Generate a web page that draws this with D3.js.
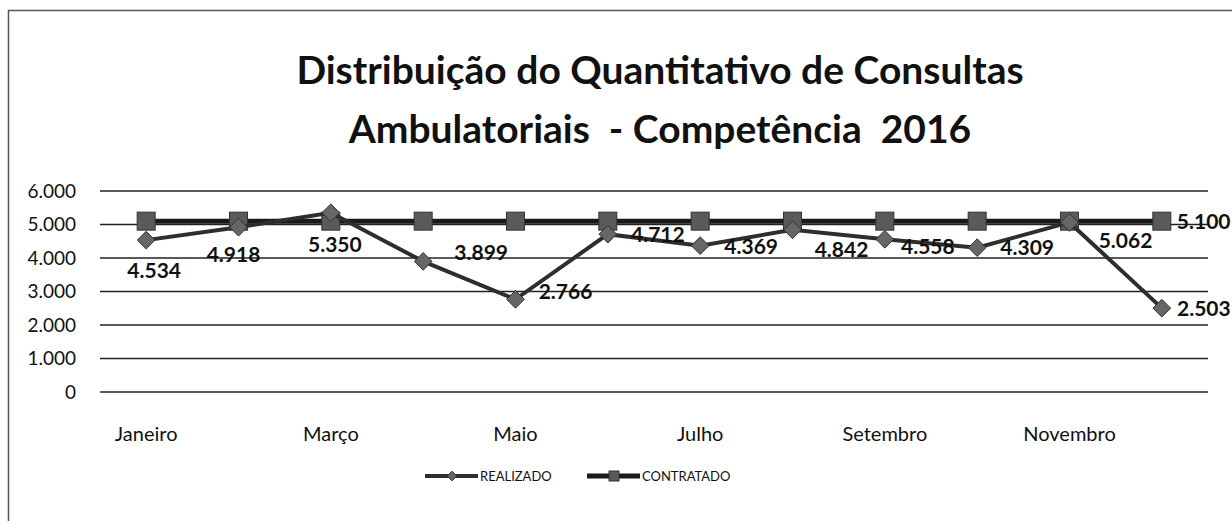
<!DOCTYPE html>
<html>
<head>
<meta charset="utf-8">
<script src="https://cdn.jsdelivr.net/npm/d3@7"></script>
<style>
  body { margin: 0; background: #fff; }
  svg { display: block; font-family: Lato, "Open Sans", sans-serif; }
</style>
</head>
<body>
<svg id="chart" width="1232" height="521"></svg>
<script>
const months = ["Janeiro", "Fevereiro", "Março", "Abril", "Maio", "Junho",
    "Julho", "Agosto", "Setembro", "Outubro", "Novembro", "Dezembro"];
const realizado = [4534, 4918, 5350, 3899, 2766, 4712, 4369, 4842, 4558, 4309, 5062, 2503];
const contratado = [5100, 5100, 5100, 5100, 5100, 5100, 5100, 5100, 5100, 5100, 5100, 5100];
const yTicks = [0, 1000, 2000, 3000, 4000, 5000, 6000];
const seriesNames = ["REALIZADO", "CONTRATADO"];
const titleLines = ["Distribuição do Quantitativo de Consultas", "Ambulatoriais  - Competência  2016"];

// label placement (dx, dy from the point), as Excel left them
const labelOffsets = [[8, 30], [-5, 27], [4, 32], [58, -9], [50, -8], [50, 0],
    [51, 1], [49, 20], [43, 7], [50, 0], [56, 18], [42, 0]];

const svg = d3.select("#chart");
const fmt = d => d3.format(",")(d).replace(/,/g, ".");

// outer chart border
svg.append("rect")
    .attr("x", 8.5).attr("y", 10.5)
    .attr("width", 1260).attr("height", 560)
    .attr("fill", "none").attr("stroke", "#555").attr("stroke-width", 1.5);

// title
svg.append("g").selectAll("text")
    .data(titleLines)
    .enter().append("text")
    .attr("x", 660)
    .attr("y", (d, i) => 84 + i * 59)
    .attr("text-anchor", "middle")
    .attr("font-weight", "bold")
    .attr("font-size", 39)
    .attr("fill", "#111")
    .style("white-space", "pre")
    .text(d => d);

const x = d3.scaleBand().domain(months).range([100, 1208]);
const y = d3.scaleLinear().domain([0, 6000]).range([392, 191]);
const cx = m => x(m) + x.bandwidth() / 2;

// gridlines
svg.append("g").selectAll("line")
    .data(yTicks)
    .enter().append("line")
    .attr("x1", 100).attr("x2", 1208)
    .attr("y1", d => y(d)).attr("y2", d => y(d))
    .attr("stroke", "#222").attr("stroke-width", 1.5);

// y axis labels
const yAxis = svg.append("g")
    .attr("transform", "translate(80,0)")
    .call(d3.axisLeft(y).tickValues(yTicks).tickFormat(fmt).tickSize(0).tickPadding(4));
yAxis.select(".domain").remove();
yAxis.selectAll("text").attr("font-size", 19).attr("fill", "#111")
    .attr("font-family", "Lato, sans-serif");

// x axis labels, every other month
const xAxis = svg.append("g")
    .attr("transform", "translate(0,424)")
    .call(d3.axisBottom(x).tickValues(months.filter((m, i) => i % 2 === 0)).tickSize(0));
xAxis.select(".domain").remove();
xAxis.selectAll("text").attr("font-size", 20).attr("fill", "#111")
    .attr("font-family", "Lato, sans-serif");

const line = d3.line().x((d, i) => cx(months[i])).y(d => y(d));

// CONTRATADO
svg.append("path")
    .datum(contratado)
    .attr("fill", "none").attr("stroke", "#1a1a1a").attr("stroke-width", 5)
    .attr("d", line);
svg.append("g").selectAll("rect")
    .data(contratado)
    .enter().append("rect")
    .attr("x", (d, i) => cx(months[i]) - 9)
    .attr("y", d => y(d) - 9)
    .attr("width", 18).attr("height", 18)
    .attr("fill", "#5a5a5a").attr("stroke", "#333").attr("stroke-width", 1);

// REALIZADO
svg.append("path")
    .datum(realizado)
    .attr("fill", "none").attr("stroke", "#2e2e2e").attr("stroke-width", 4)
    .attr("d", line);
const diamond = d3.symbol().type(d3.symbolDiamond2).size(200);
svg.append("g").selectAll("path")
    .data(realizado)
    .enter().append("path")
    .attr("transform", (d, i) => `translate(${cx(months[i])},${y(d)})`)
    .attr("d", diamond)
    .attr("fill", "#666").attr("stroke", "#333").attr("stroke-width", 1);

// data labels
svg.append("g").selectAll("text")
    .data(realizado)
    .enter().append("text")
    .attr("x", (d, i) => cx(months[i]) + labelOffsets[i][0])
    .attr("y", (d, i) => y(d) + labelOffsets[i][1])
    .attr("dy", "0.36em")
    .attr("text-anchor", "middle")
    .attr("font-weight", "bold").attr("font-size", 21).attr("fill", "#111")
    .text(fmt);

svg.append("text")
    .attr("x", cx(months[11]) + 15)
    .attr("y", y(contratado[11]))
    .attr("dy", "0.36em")
    .attr("font-weight", "bold").attr("font-size", 21).attr("fill", "#111")
    .text(fmt(contratado[11]));

// legend
const legend = svg.append("g").attr("transform", "translate(0,476)");
const legendX = [425, 587];
seriesNames.forEach((name, i) => {
    const g = legend.append("g").attr("transform", `translate(${legendX[i]},0)`);
    g.append("line").attr("x1", 0).attr("x2", 53).attr("y1", 0).attr("y2", 0)
        .attr("stroke", i === 0 ? "#2e2e2e" : "#1a1a1a").attr("stroke-width", i === 0 ? 4 : 5);
    if (i === 0) {
        g.append("path").attr("transform", "translate(27,0)")
            .attr("d", d3.symbol().type(d3.symbolDiamond2).size(60))
            .attr("fill", "#666").attr("stroke", "#333");
    } else {
        g.append("rect").attr("x", 22).attr("y", -5).attr("width", 10).attr("height", 10)
            .attr("fill", "#5a5a5a").attr("stroke", "#333");
    }
    g.append("text").attr("x", 55).attr("y", 0).attr("dy", "0.36em")
        .attr("font-size", 13).attr("fill", "#111").text(name);
});
</script>
</body>
</html>
